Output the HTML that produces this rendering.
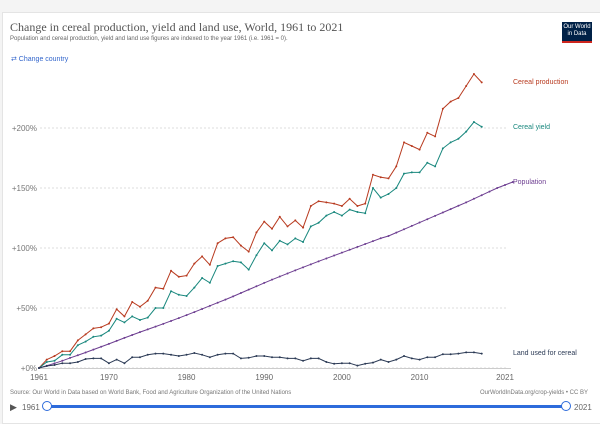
<!DOCTYPE html>
<html><head><meta charset="utf-8"><style>
body{margin:0;width:600px;height:420px;background:#f4f4f4;overflow:hidden;font-family:"Liberation Sans",sans-serif}
#card{position:absolute;left:2px;top:12px;width:600px;height:410px;background:#fff;border:1px solid #e4e4e4}
.t{position:absolute;white-space:nowrap}
</style></head><body>
<div id="card"></div>
<div class="t" style="left:10px;top:20px;font:12px 'Liberation Serif',serif;color:#555">Change in cereal production, yield and land use, World, 1961 to 2021</div>
<div class="t" style="left:10px;top:36px;font-size:6px;color:#666">Population and cereal production, yield and land use figures are indexed to the year 1961 (i.e. 1961 = 0).</div>
<div style="position:absolute;left:562px;top:22px;width:30px;height:21px;background:#002147;border-bottom:2px solid #ce261e;color:#fff;font-size:6px;line-height:7px;text-align:center;padding-top:2px;box-sizing:border-box">Our World<br>in Data</div>
<div class="t" style="left:11px;top:55px;font-size:7px;color:#3366cc">⇄ Change country</div>
<svg id="chart" width="600" height="420" style="position:absolute;left:0;top:0"></svg>
<div class="t" style="left:10px;top:390px;font-size:6px;color:#777">Source: Our World in Data based on World Bank, Food and Agriculture Organization of the United Nations</div>
<div class="t" style="right:12px;top:390px;font-size:6px;color:#777">OurWorldInData.org/crop-yields • CC BY</div>
<div class="t" style="left:10px;top:402px;font-size:9px;color:#555">▶</div>
<div class="t" style="left:22px;top:403px;font-size:8px;color:#666">1961</div>
<div style="position:absolute;left:46px;top:405px;width:520px;height:3px;background:#2d6bdb"></div>
<div style="position:absolute;left:42px;top:401px;width:8px;height:8px;border:1px solid #2d6bdb;border-radius:50%;background:#fff"></div>
<div style="position:absolute;left:561px;top:401px;width:8px;height:8px;border:1px solid #2d6bdb;border-radius:50%;background:#fff"></div>
<div class="t" style="left:574px;top:403px;font-size:8px;color:#666">2021</div>
<script>
const startYear=1961;
const production=[0,7,10,14,14,23,28,33,34,37,49,43,55,51,56,67,66,81,76,77,87,93,86,104,108,109,102,97,113,122,116,126,118,123,117,135,139,138,137,135,141,135,137,161,159,158,168,188,185,182,196,193,216,222,225,235,245,238];
const yieldS=[0,5,6,11,11,19,22,26,27,31,41,38,43,40,42,50,50,64,61,60,67,75,71,85,87,89,88,82,94,104,98,106,103,108,105,118,121,127,130,127,132,130,129,150,142,145,150,162,163,163,171,168,183,188,191,197,205,201];
const population=[0,1.9,3.9,6,8.4,10.6,12.9,15.3,17.7,20.1,22.6,25.1,27.5,29.9,32.2,34.5,36.8,39.2,41.6,44.1,46.6,49.2,51.8,54.4,57,59.7,62.5,65.3,68.1,70.9,73.6,76.2,78.8,81.4,83.9,86.4,88.9,91.3,93.7,96.1,98.5,100.9,103.3,105.7,108.1,110,112.8,115.6,118.4,121.2,124,126.8,129.6,132.4,135.2,138,141,144,147,150,152.5,155];
const land=[0,1.7,2.5,4,4,5,7.5,8,8,4,7,4,9,9,11,12,12,11,10,11,12.5,11,9,11,12,12,8,8.5,10,10,9,9,8,8,6,8,8,5,3.5,4,4,2,3.5,4.5,7,5,7,10,8,7,9,9,11.5,11.5,12,13,13,12];
const yTicks=[0,50,100,150,200];
const xTicks=[1961,1970,1980,1990,2000,2010,2021];
const NS="http://www.w3.org/2000/svg",svg=document.getElementById('chart');
const X=y=>39+(y-1961)*(466/60), Y=v=>368-v*1.2;
function mk(t,a){const e=document.createElementNS(NS,t);for(const k in a)e.setAttribute(k,a[k]);svg.appendChild(e);return e;}
yTicks.forEach(v=>{
 const g=mk('line',{x1:40,x2:508,y1:Y(v),y2:Y(v),stroke:'#ddd','stroke-dasharray':'2,2'});
 
 
 const t=mk('text',{x:37,y:Y(v)+3,'text-anchor':'end','font-size':'8',fill:'#777','font-family':'Liberation Sans'});
 t.textContent='+'+v+'%';
 
 
});
const ax=mk('line',{x1:39,x2:511,y1:368.5,y2:368.5,stroke:'#ccc'});


xTicks.forEach(v=>{
 const t=mk('text',{x:X(v),y:380,'text-anchor':'middle','font-size':'8',fill:'#666','font-family':'Liberation Sans'});
 t.textContent=v;
 
 
});
function series(arr,col,name,label,ly){
 const pts=arr.map((v,i)=>X(startYear+i)+','+Y(v)).join(' ');
 const p=mk('polyline',{points:pts,fill:'none',stroke:col,'stroke-width':1});
 
 
 arr.forEach((v,i)=>{const c=mk('circle',{cx:X(startYear+i),cy:Y(v),r:1,fill:col});
  
  });
 const t=mk('text',{x:513,y:ly,'font-size':'7',fill:col,'font-family':'Liberation Sans'});
 t.textContent=label;
 
 
}
series(production,'#b83a1f','cereal-production','Cereal production',84);
series(yieldS,'#18877d','cereal-yield','Cereal yield',129);
series(population,'#6d3e91','population','Population',184);
series(land,'#2b3a55','land-used','Land used for cereal',355);
</script>
</body></html>
